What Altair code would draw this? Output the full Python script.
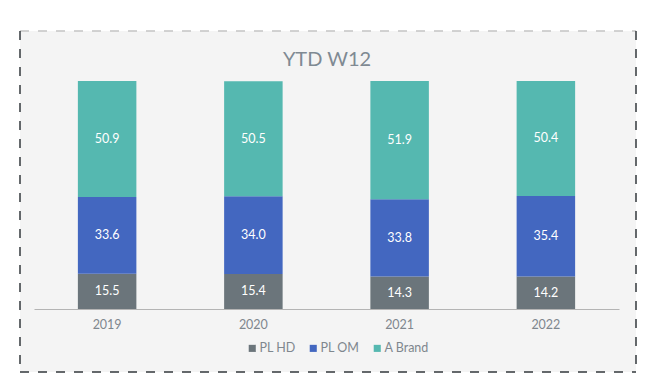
import altair as alt
import pandas as pd

years = ["2019", "2020", "2021", "2022"]
series = ["PL HD", "PL OM", "A Brand"]
pl_hd = [15.5, 15.4, 14.3, 14.2]
pl_om = [33.6, 34.0, 33.8, 35.4]
a_brand = [50.9, 50.5, 51.9, 50.4]
colors = ["#6b757b", "#4367c0", "#55b8b0"]
title_text = "YTD W12"

rows = []
for i, y in enumerate(years):
    for k, (s, vals) in enumerate(zip(series, [pl_hd, pl_om, a_brand])):
        rows.append({"year": y, "series": s, "value": vals[i], "order": k})
df = pd.DataFrame(rows)

FONT = "Lato"
deco = pd.DataFrame({"a": [0]})

bg = alt.Chart(deco).mark_rect(fill="#f4f4f4").encode(
    x=alt.value(-14), x2=alt.value(602), y=alt.value(-50), y2=alt.value(291)
)
top_rule = alt.Chart(deco).mark_rule(color="#c4c4c4", strokeWidth=1.5, strokeDash=[9, 9]).encode(
    x=alt.value(-14), x2=alt.value(602), y=alt.value(-50)
)
bottom_rule = alt.Chart(deco).mark_rule(color="#33383d", strokeWidth=1.5, strokeDash=[9, 9]).encode(
    x=alt.value(-14), x2=alt.value(602), y=alt.value(291)
)
left_rule = alt.Chart(deco).mark_rule(color="#33383d", strokeWidth=1.5, strokeDash=[9, 9]).encode(
    x=alt.value(-14), y=alt.value(-50), y2=alt.value(291)
)
right_rule = alt.Chart(deco).mark_rule(color="#33383d", strokeWidth=1.5, strokeDash=[9, 9]).encode(
    x=alt.value(602), y=alt.value(-50), y2=alt.value(291)
)
title = alt.Chart(deco).mark_text(
    font=FONT, fontSize=20, color="#7f8a93", baseline="alphabetic", align="center"
).encode(
    x=alt.value(293), y=alt.value(-15), text=alt.value(title_text)
)

x_enc = alt.X(
    "year:N",
    sort=years,
    title=None,
    scale=alt.Scale(paddingInner=0.6, paddingOuter=0.3),
    axis=alt.Axis(
        labelAngle=0, ticks=False, domainColor="#b4b4b4", domainWidth=1.2,
        labelColor="#7f878e", labelFont=FONT, labelFontSize=12.5, labelPadding=9,
        grid=False, zindex=1,
    ),
)
y_enc = alt.Y(
    "value:Q", stack="zero", title=None,
    scale=alt.Scale(domain=[0, 100], nice=False),
    axis=None,
)

bars = alt.Chart(df).mark_bar().encode(
    x=x_enc,
    y=y_enc,
    color=alt.Color(
        "series:N",
        scale=alt.Scale(domain=series, range=colors),
        sort=series,
        legend=alt.Legend(
            title=None, orient="none", direction="horizontal",
            legendX=212, legendY=261,
            symbolType="square", symbolSize=50, symbolStrokeWidth=0,
            labelFont=FONT, labelFontSize=12.5, labelColor="#7f878e",
            columnPadding=11, labelOffset=1,
        ),
    ),
    order=alt.Order("order:Q"),
)

labels = alt.Chart(df).mark_text(
    color="white", font=FONT, fontSize=12.5, baseline="middle"
).encode(
    x=alt.X("year:N", sort=years),
    y=alt.Y("value:Q", stack="zero", bandPosition=0.5),
    text=alt.Text("value:Q", format=".1f"),
    order=alt.Order("order:Q"),
)

chart = alt.layer(bg, top_rule, bottom_rule, left_rule, right_rule, title, bars, labels).properties(
    width=585,
    height=228,
    autosize=alt.AutoSizeParams(type="none"),
    padding={"left": 26, "top": 73, "right": 25, "bottom": 70},
).configure_view(stroke=None).configure(background="white")

chart.save("out.html", embed_options={"renderer": "svg", "actions": False})
